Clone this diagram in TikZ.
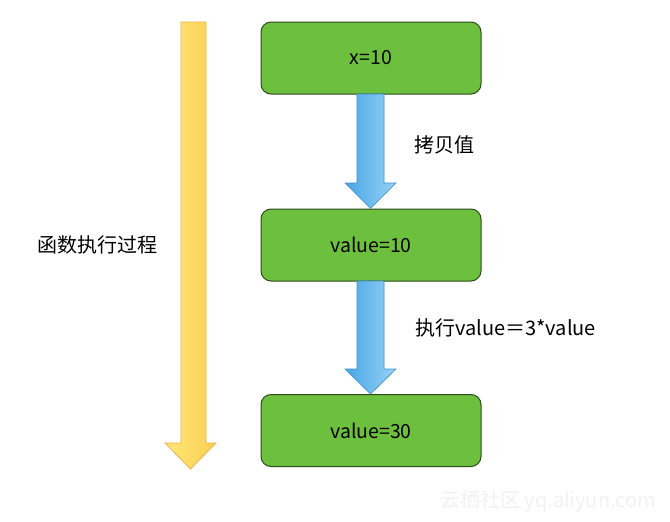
\documentclass[tikz,border=0pt]{standalone}
\usepackage{fontspec}
\newfontfamily\cjk{Noto Sans CJK SC}
\usetikzlibrary{shadings}
\definecolor{boxgreen}{HTML}{6CC03E}
\definecolor{boxedge}{HTML}{2E4A1E}
\definecolor{bluedark}{HTML}{4AA6E6}
\definecolor{bluelight}{HTML}{95D2F6}
\definecolor{blueedge}{HTML}{3C8FD0}
\definecolor{yel1}{HTML}{FFE678}
\definecolor{yel2}{HTML}{FAD052}
\definecolor{yeledge}{HTML}{EDB24A}
\begin{document}
\begin{tikzpicture}[x=1pt,y=-1pt,
  stepbox/.style={draw=boxedge,line width=1pt,fill=boxgreen,rounded corners=10pt,
    minimum width=220pt,minimum height=72pt,inner sep=0pt,font=\cjk\fontsize{19.5}{22}\selectfont},
  lbl/.style={font=\cjk\fontsize{20}{22}\selectfont,anchor=west,inner sep=0pt},
  bluearrow/.style={left color=bluedark,right color=bluelight,draw=blueedge,line width=0.6pt},
  yelarrow/.style={left color=yel1,right color=yel2,draw=yeledge,line width=0.8pt}]
\useasboundingbox (0,0) rectangle (670,522);
\fill[white] (0,0) rectangle (670,522);
% time arrow
\path[yelarrow] (181,22) -- (206,22) -- (206,443) -- (216,443) -- (190.5,469) -- (165,443) -- (181,443) -- cycle;
\node[lbl] (proc) at (37,245) {函数执行过程};
% boxes
\node[stepbox] (b1) at (371,58) {x=10};
\node[stepbox] (b2) at (371,245) {value=10};
\node[stepbox] (b3) at (371,430.5) {value=30};
% blue arrows
\path[bluearrow] (357,94) -- (384,94) -- (384,183) -- (396,183) -- (370.5,208.5) -- (345,183) -- (357,183) -- cycle;
\path[bluearrow] (357,281) -- (384,281) -- (384,369) -- (396,369) -- (370.5,394) -- (345,369) -- (357,369) -- cycle;
\node[lbl] (l1) at (414,145) {拷贝值};
\node[lbl] (l2) at (415,328) {执行value＝3*value};
% watermark
\node[lbl,text=black!5] (wm) at (440,501) {云栖社区 yq.aliyun.com};
\end{tikzpicture}
\end{document}
